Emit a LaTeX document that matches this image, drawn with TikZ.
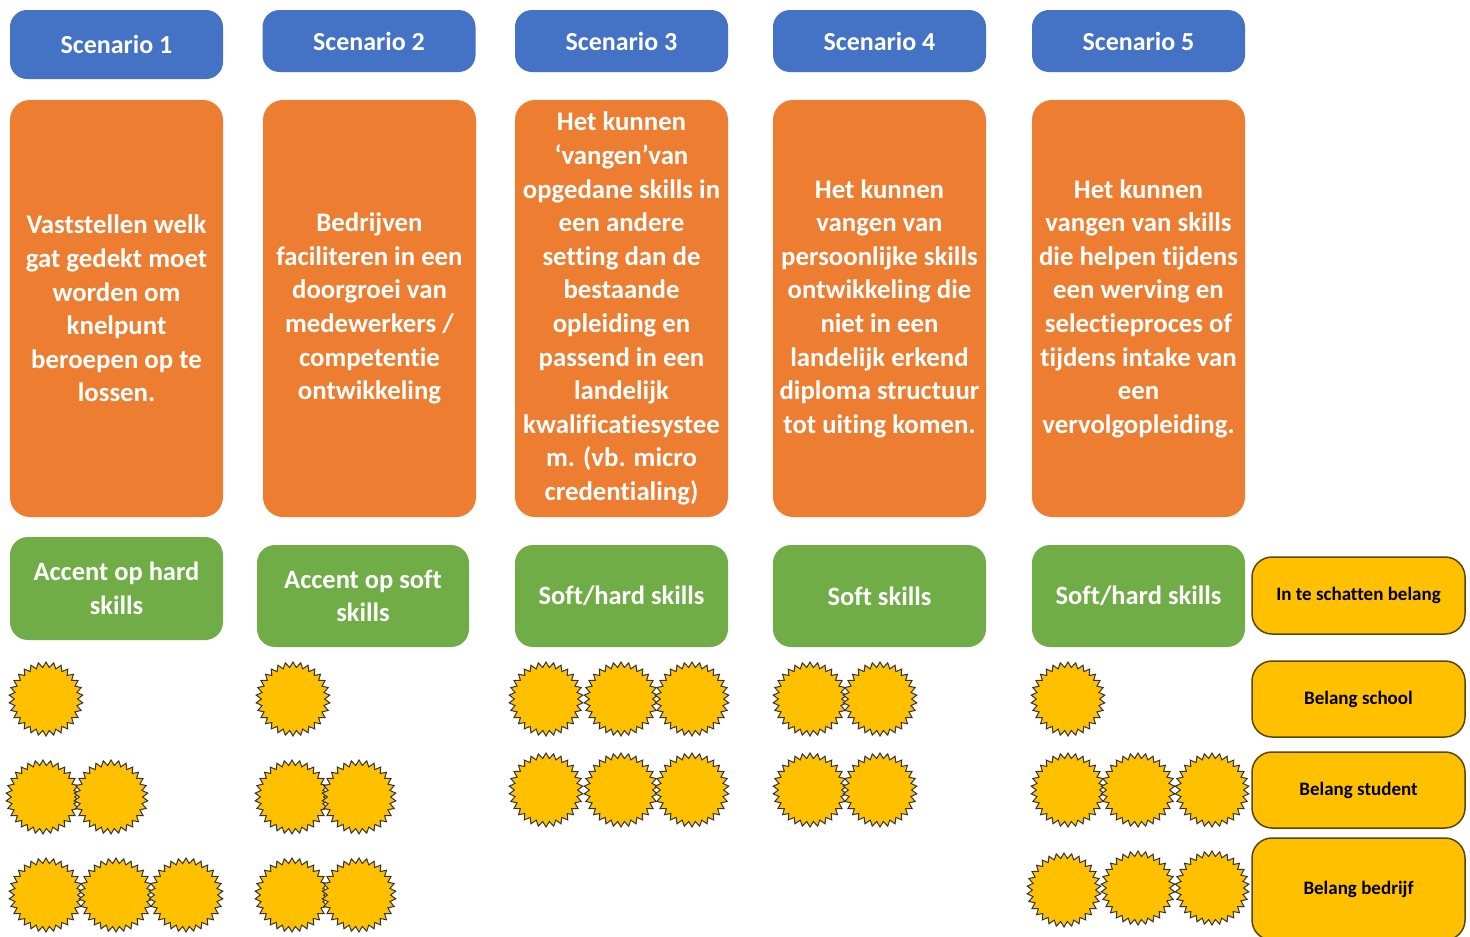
\documentclass[tikz,border=0pt]{standalone}
\usepackage{fontspec}
\setmainfont{Carlito}[Ligatures={NoCommon}]
\usetikzlibrary{shapes.geometric}
\definecolor{hdrblue}{HTML}{4472C4}
\definecolor{boxorange}{HTML}{ED7D31}
\definecolor{boxgreen}{HTML}{70AD47}
\definecolor{sunyellow}{HTML}{FFC000}
\definecolor{edgebrown}{HTML}{5A4600}
\tikzset{
  header/.style={fill=hdrblue, rounded corners=17, minimum width=213, minimum height=62,
    inner sep=0, text=white, font=\bfseries\fontsize{26}{30}\selectfont},
  scenbox/.style={fill=boxorange, rounded corners=20, minimum width=213, minimum height=417,
    inner sep=0, text=white, align=center, font=\bfseries\fontsize{26.8}{33.6}\selectfont},
  skillbox/.style={fill=boxgreen, rounded corners=18, minimum width=213, minimum height=102,
    inner sep=0, text=white, align=center, font=\bfseries\fontsize{26.5}{33.6}\selectfont},
  legendbox/.style={fill=sunyellow, draw=edgebrown, line width=1.5, rounded corners=20,
    minimum width=213, minimum height=76, inner sep=0, text=black,
    font=\bfseries\fontsize{19}{23}\selectfont},
  sun/.style={star, star points=30, star point ratio=1.17, minimum size=74, inner sep=0,
    fill=sunyellow, draw=black!80, line width=1}
}
\begin{document}
\begin{tikzpicture}[x=1pt,y=-1pt]
\useasboundingbox (0,0) rectangle (1470,937);
\fill[white] (0,0) rectangle (1470,937);

% scenario headers
\node[header, minimum height=69] (h1) at (116.5,44.5) {Scenario 1};
\node[header] (h2) at (369,41) {Scenario 2};
\node[header] (h3) at (621.5,41) {Scenario 3};
\node[header] (h4) at (879.5,41) {Scenario 4};
\node[header] (h5) at (1138.5,41) {Scenario 5};

% scenario descriptions
\node[scenbox] (d1) at (116.5,308.5) {Vaststellen welk\\gat gedekt moet\\worden om\\knelpunt\\beroepen op te\\lossen.};
\node[scenbox] (d2) at (369.5,308.5) {Bedrijven\\faciliteren in een\\doorgroei van\\medewerkers /\\competentie\\ontwikkeling};
\node[scenbox] (d3) at (621.5,308.5) {Het kunnen\\‘vangen’van\\opgedane skills in\\een andere\\setting dan de\\bestaande\\opleiding en\\passend in een\\landelijk\\kwalificatiesystee\\m. (vb. micro\\credentialing)};
\node[scenbox] (d4) at (879.5,308.5) {Het kunnen\\vangen van\\persoonlijke skills\\ontwikkeling die\\niet in een\\landelijk erkend\\diploma structuur\\tot uiting komen.};
\node[scenbox] (d5) at (1138.5,308.5) {Het kunnen\\vangen van skills\\die helpen tijdens\\een werving en\\selectieproces of\\tijdens intake van\\een\\vervolgopleiding.};

% skill focus
\node[skillbox, minimum height=103] (k1) at (116.5,588.5) {Accent op hard\\skills};
\node[skillbox, minimum width=212] (k2) at (363,596) {Accent op soft\\skills};
\node[skillbox] (k3) at (621.5,596) {Soft/hard skills};
\node[skillbox] (k4) at (879.5,596) {Soft skills};
\node[skillbox] (k5) at (1138.5,596) {Soft/hard skills};

% legend
\node[legendbox, minimum height=77] (l0) at (1358.5,595.5) {In te schatten belang};
\node[legendbox] (l1) at (1358.5,699) {Belang school};
\node[legendbox] (l2) at (1358.5,790) {Belang student};
\node[legendbox, minimum height=102] (l3) at (1358.5,889) {Belang bedrijf};

% ratings, scenario 1
\node[sun] (s1a) at (46,699) {};
\node[sun] (s1b) at (43,797) {};
\node[sun] (s1c) at (111,797) {};
\node[sun] (s1d) at (46,895) {};
\node[sun] (s1e) at (116,895) {};
\node[sun] (s1f) at (186,895) {};
% ratings, scenario 2
\node[sun] (s2a) at (293,699) {};
\node[sun] (s2b) at (292,797) {};
\node[sun] (s2c) at (359,797) {};
\node[sun] (s2d) at (292,895) {};
\node[sun] (s2e) at (359,895) {};
% ratings, scenario 3
\node[sun] (s3a) at (546,699) {};
\node[sun] (s3b) at (621,699) {};
\node[sun] (s3c) at (692,699) {};
\node[sun] (s3d) at (546,790) {};
\node[sun] (s3e) at (621,790) {};
\node[sun] (s3f) at (692,790) {};
% ratings, scenario 4
\node[sun] (s4a) at (810,699) {};
\node[sun] (s4b) at (880,699) {};
\node[sun] (s4c) at (810,790) {};
\node[sun] (s4d) at (880,790) {};
% ratings, scenario 5
\node[sun] (s5a) at (1068,699) {};
\node[sun] (s5b) at (1068,790) {};
\node[sun] (s5c) at (1138,790) {};
\node[sun] (s5d) at (1212,790) {};
\node[sun] (s5e) at (1064,890) {};
\node[sun] (s5f) at (1138,888) {};
\node[sun] (s5g) at (1212,888) {};
\end{tikzpicture}
\end{document}
